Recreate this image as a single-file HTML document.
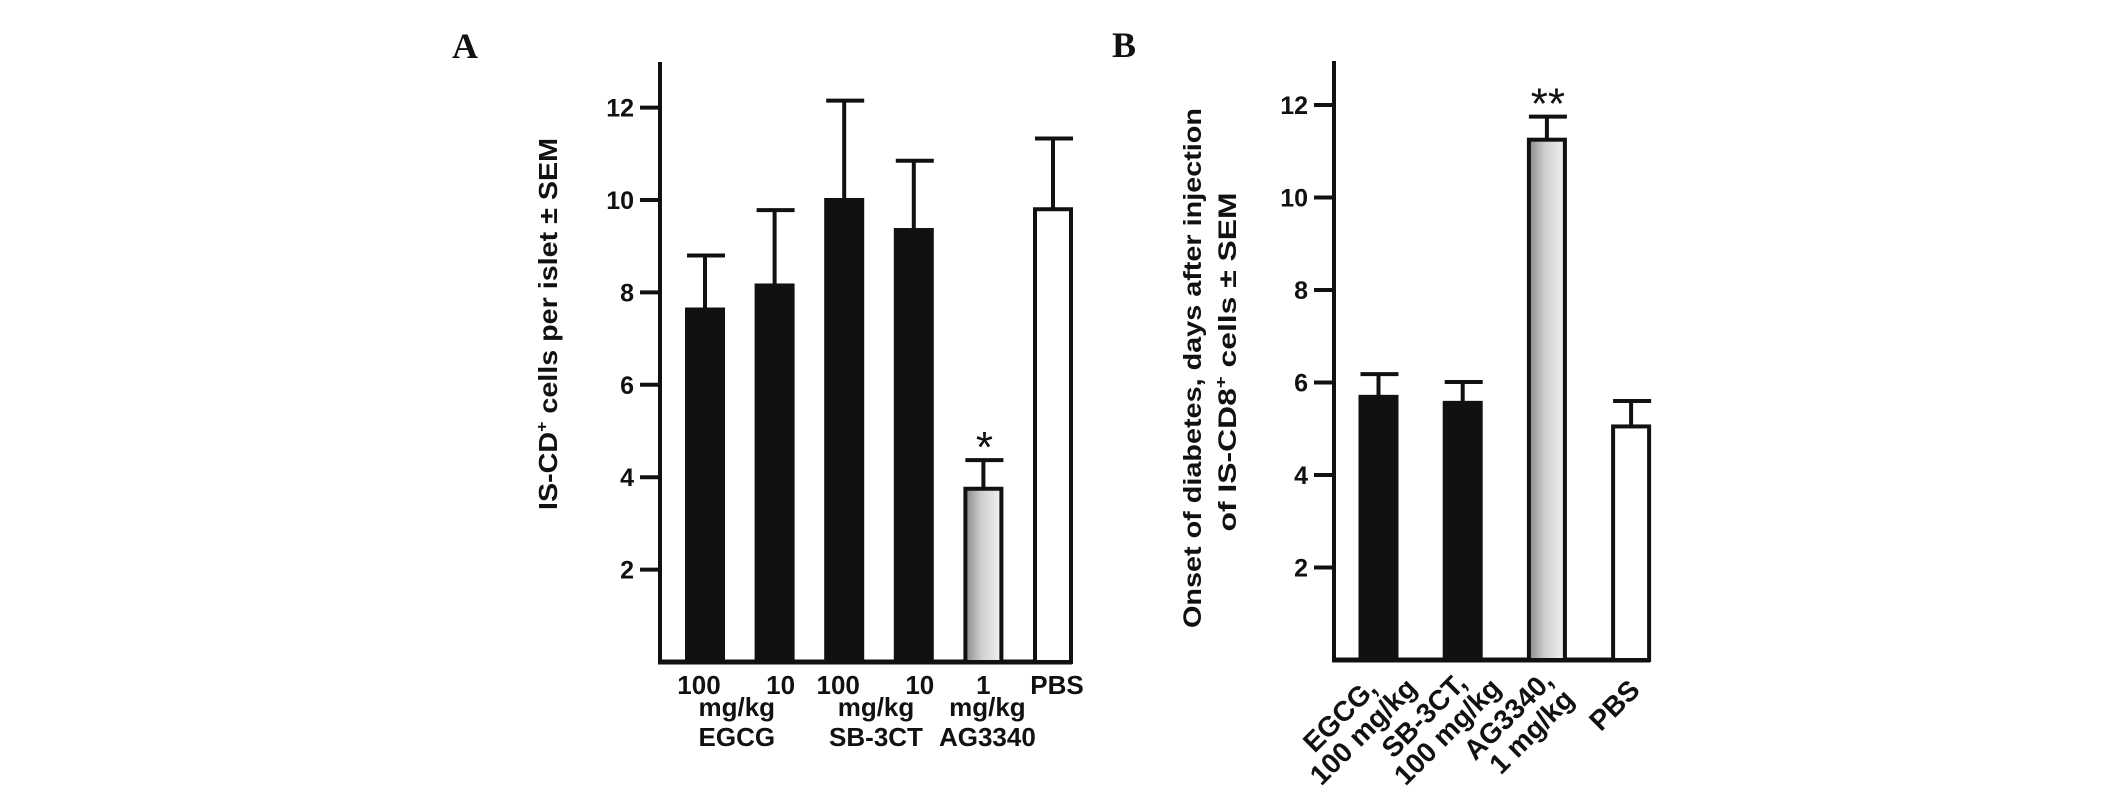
<!DOCTYPE html>
<html><head><meta charset="utf-8"><style>
html,body{margin:0;padding:0;background:#fff;}
svg{display:block;}
text{font-family:"Liberation Sans",Arial,sans-serif;font-weight:bold;fill:#111;}
text.star{font-weight:normal;}
</style></head><body>
<svg id="chart" width="2126" height="795" viewBox="0 0 2126 795" xmlns="http://www.w3.org/2000/svg">
<defs>
<linearGradient id="grad" x1="0" x2="1" y1="0" y2="0">
<stop offset="0" stop-color="#8a8a8a"/><stop offset="0.45" stop-color="#cfcfcf"/><stop offset="1" stop-color="#f2f2f2"/>
</linearGradient>
</defs>
<text x="452" y="58" style="font-family:'Liberation Serif',serif;font-size:36px;font-weight:bold">A</text>
<text x="1112" y="57" style="font-family:'Liberation Serif',serif;font-size:36px;font-weight:bold">B</text>
<g id="pa"></g>
<g id="pb"></g>
<text transform="translate(557,324) rotate(-90)" text-anchor="middle" font-size="26" textLength="372" lengthAdjust="spacingAndGlyphs">IS-CD<tspan font-size="16" dy="-10">+</tspan><tspan dy="10"> cells per islet ± SEM</tspan></text>
<text transform="translate(1201,368) rotate(-90)" text-anchor="middle" font-size="25" textLength="520" lengthAdjust="spacingAndGlyphs">Onset of diabetes, days after injection</text>
<text transform="translate(1236,362) rotate(-90)" text-anchor="middle" font-size="25" textLength="339" lengthAdjust="spacingAndGlyphs">of IS-CD8<tspan font-size="16" dy="-10">+</tspan><tspan dy="10"> cells ± SEM</tspan></text>
</svg>
<script>
const NS="http://www.w3.org/2000/svg";
const ticks=[2,4,6,8,10,12];
const tickLabels=["2","4","6","8","10","12"];
// Panel A data
const catsA=["EGCG 100","EGCG 10","SB-3CT 100","SB-3CT 10","AG3340 1","PBS"];
const valsA=[7.63,8.15,10.0,9.35,3.75,9.8];
const errA=[1.17,1.63,2.15,1.5,0.62,1.53];
const fillA=["black","black","black","black","grad","white"];
// Panel B data
const catsB=["EGCG, 100 mg/kg","SB-3CT, 100 mg/kg","AG3340, 1 mg/kg","PBS"];
const valsB=[5.69,5.56,11.25,5.05];
const errB=[0.49,0.45,0.5,0.55];
const fillB=["black","black","grad","white"];
const starsB=["","","**",""];
const starsA=["","","","","*",""];

function mk(parent,tag,attrs,txt){const e=document.createElementNS(NS,tag);for(const k in attrs)e.setAttribute(k,attrs[k]);if(txt!==undefined)e.textContent=txt;parent.appendChild(e);return e;}

function panel(g,cfg,cats,vals,errs,fills,stars,nm){
  const y=v=>cfg.zero-v*cfg.scale;
  const x=i=>cfg.x0+i*cfg.step;
  const ya=mk(g,'line',{x1:cfg.ax,y1:cfg.top,x2:cfg.ax,y2:cfg.zero+2,stroke:'#111','stroke-width':4});
  
  
  const xa=mk(g,'line',{x1:cfg.ax-2,y1:cfg.zero,x2:cfg.xend,y2:cfg.zero,stroke:'#111','stroke-width':5});
  
  
  ticks.forEach((t,i)=>{
    const tl=mk(g,'line',{x1:cfg.ax-20,y1:y(t),x2:cfg.ax,y2:y(t),stroke:'#111','stroke-width':4});
    
    
    const tx=mk(g,'text',{x:cfg.ax-26,y:y(t)+9,'text-anchor':'end','font-size':25},tickLabels[i]);
    
    
  });
  vals.forEach((v,i)=>{
    const cx=x(i), w=cfg.bw;
    const fill=fills[i]==='grad'?'url(#grad)':(fills[i]==='black'?'#111':'#fff');
    const r=mk(g,'rect',{x:cx-w/2,y:y(v),width:w,height:cfg.zero-y(v),fill:fill,stroke:'#111','stroke-width':4});
    
    
    const e=y(v+errs[i]);
    const el=mk(g,'line',{x1:cx,y1:y(v),x2:cx,y2:e,stroke:'#111','stroke-width':4});
    
    
    const cap=mk(g,'line',{x1:cx-w/2,y1:e,x2:cx+w/2+2,y2:e,stroke:'#111','stroke-width':4});
    
    
    if(stars[i]){
      const s=mk(g,'text',{x:cx+1,y:e+2,'text-anchor':'middle','font-size':44,'class':'star'},stars[i]);
      
      
    }
  });
  return {x,y};
}
const A=panel(document.getElementById('pa'),{ax:660,top:62,zero:662,scale:46.2,x0:705,step:69.6,bw:36,xend:1072},catsA,valsA,errA,fillA,starsA,'a');
const B=panel(document.getElementById('pb'),{ax:1334,top:61,zero:660,scale:46.25,x0:1378.5,step:84.2,bw:36,xend:1650},catsB,valsB,errB,fillB,starsB,'b');

const ga=document.getElementById('pa');
const row1=["100","10","100","10","1","PBS"];
row1.forEach((t,i)=>{const e=mk(ga,'text',{x:A.x(i)-(i===0||i===2?6:(i===1||i===3?-6:0))+(i===5?4:0),y:694,'text-anchor':'middle','font-size':26},t);
  
  });
const groupsA=[["mg/kg","EGCG",0],["mg/kg","SB-3CT",2]];
groupsA.forEach((gr,k)=>{const cx=(A.x(gr[2])+A.x(gr[2]+1))/2-3;
  const m=mk(ga,'text',{x:cx,y:716,'text-anchor':'middle','font-size':26},gr[0]);
  
  
  const n=mk(ga,'text',{x:cx,y:746,'text-anchor':'middle','font-size':26},gr[1]);
  
  });
const m3=mk(ga,'text',{x:A.x(4)+4,y:716,'text-anchor':'middle','font-size':26},"mg/kg");


const n3=mk(ga,'text',{x:A.x(4)+4,y:746,'text-anchor':'middle','font-size':26},"AG3340");



const gb=document.getElementById('pb');
catsB.forEach((c,i)=>{
  const parts=c.split(', ');
  const cx=B.x(i);
  if(parts.length===2){
    const g=mk(gb,'g',{transform:`translate(${cx-32},${722}) rotate(-45)`});
    
    
    mk(g,'text',{x:0,y:0,'text-anchor':'middle','font-size':28},parts[0]+',');
    mk(g,'text',{x:5,y:28,'text-anchor':'middle','font-size':28},parts[1]);
  }else{
    const g=mk(gb,'g',{transform:`translate(${cx-10},${712}) rotate(-45)`});
    
    
    mk(g,'text',{x:0,y:0,'text-anchor':'middle','font-size':28},parts[0]);
  }
});
</script>
</body></html>
